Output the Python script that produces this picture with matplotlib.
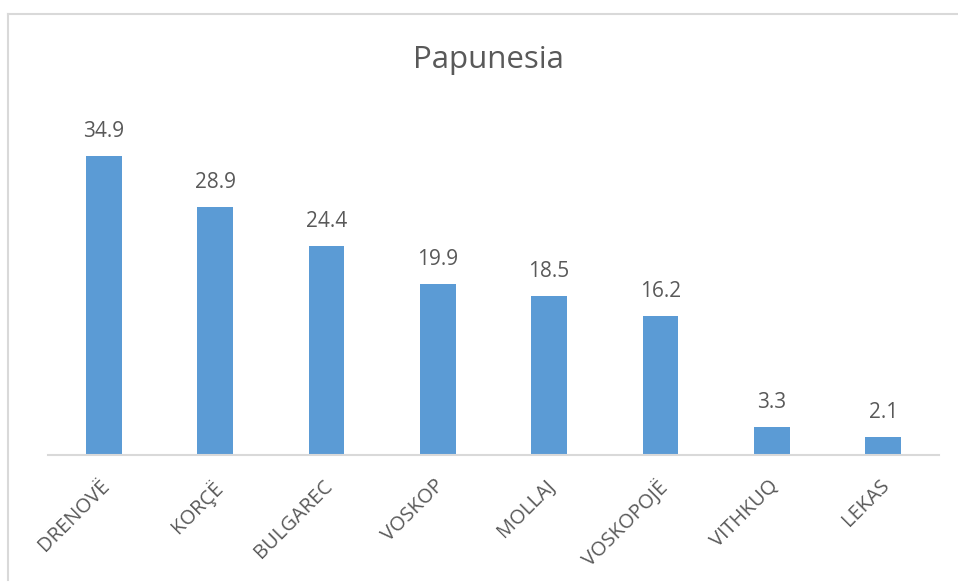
import matplotlib
matplotlib.use("Agg")
import matplotlib.pyplot as plt
from matplotlib.lines import Line2D
from matplotlib.transforms import ScaledTranslation

categories = ["DRENOVË", "KORÇË", "BULGAREC", "VOSKOP", "MOLLAJ", "VOSKOPOJË", "VITHKUQ", "LEKAS"]
values = [34.9, 28.9, 24.4, 19.9, 18.5, 16.2, 3.3, 2.1]
title = "Papunesia"

W, H = 958, 585
fig = plt.figure(figsize=(W / 100, H / 100), dpi=100)
plt.rcParams["font.family"] = ["Open Sans", "DejaVu Sans"]

text_color = "#595959"
bar_color = "#5B9BD5"
grid_color = "#D9D9D9"

# plot area in pixel coordinates
left, right, top, bottom = 48, 939, 112, 455
ax = fig.add_axes([left / W, 1 - bottom / H, (right - left) / W, (bottom - top) / H])

x = list(range(len(categories)))
bars = ax.bar(x, values, width=0.32, color=bar_color, zorder=2)
ax.set_xlim(-0.5, len(categories) - 0.5)
ax.set_ylim(0, 40)

for rect, v in zip(bars, values):
    ax.annotate(f"{v:.1f}", (rect.get_x() + rect.get_width() / 2, v),
                xytext=(0, 10), textcoords="offset points",
                ha="center", va="bottom", fontsize=15, color=text_color)

for s in ["top", "right", "left"]:
    ax.spines[s].set_visible(False)
ax.spines["bottom"].set_color(grid_color)
ax.spines["bottom"].set_linewidth(1.5)
ax.set_yticks([])
ax.set_xticks(x)
ax.set_xticklabels(categories, rotation=45, ha="right", rotation_mode="anchor",
                   fontsize=14.5, color=text_color)
ax.tick_params(axis="x", length=0, pad=15)
shift = ScaledTranslation(-4 / 100, 0, fig.dpi_scale_trans)
for lbl in ax.get_xticklabels():
    lbl.set_transform(lbl.get_transform() + shift)

fig.text(488 / W, 1 - 60 / H, title, ha="center", va="center", fontsize=22.5, color=text_color)

# chart frame
fig.add_artist(Line2D([8 / W, 1.0], [1 - 14 / H, 1 - 14 / H], color=grid_color, lw=1.5))
fig.add_artist(Line2D([8 / W, 8 / W], [1 - 14 / H, 1 - 580 / H], color=grid_color, lw=1.5))

fig.savefig("out.png", dpi=100)
